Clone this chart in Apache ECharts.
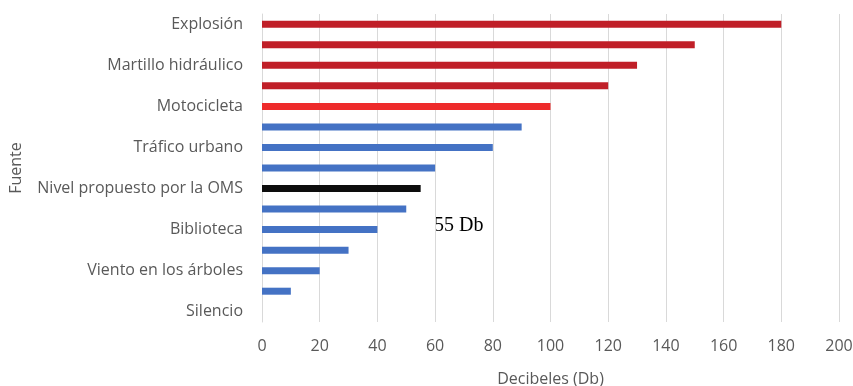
<!DOCTYPE html>
<html><head><meta charset="utf-8">
<script src="https://cdn.jsdelivr.net/npm/echarts@6/dist/echarts.min.js"></script>
<style>html,body{margin:0;padding:0;background:#fff}#c{width:853px;height:386px}</style>
</head><body><div id="c"></div>
<script>
// categories top to bottom (hidden labels are blank in the source)
const categories = ["Explosión","","Martillo hidráulico","","Motocicleta","","Tráfico urbano","","Nivel propuesto por la OMS","","Biblioteca","","Viento en los árboles","","Silencio"];
const values = [180,150,130,120,100,90,80,60,55,50,40,30,20,10,0];
const barGroups = ["dark","dark","dark","dark","bright","blue","blue","blue","black","blue","blue","blue","blue","blue","blue"];
const xTicks = [0,20,40,60,80,100,120,140,160,180,200];
const groupColors = {dark:"#C01F28", bright:"#EE2B2B", blue:"#4472C4", black:"#0D0D0D"};

const chart = echarts.init(document.getElementById('c'), null, {renderer:'canvas'});
chart.setOption({
  animation:false,
  grid:{left:262, right:14, top:14, bottom:64, containLabel:false, outerBoundsMode:'none'},
  xAxis:{type:'value', min:xTicks[0], max:xTicks[xTicks.length-1], interval:20,
    name:'Decibeles (Db)', nameLocation:'middle', nameGap:49,
    nameTextStyle:{color:'#595959', fontSize:16, fontFamily:'Open Sans'},
    axisLine:{show:false}, axisTick:{show:false},
    axisLabel:{color:'#595959', fontSize:16, fontFamily:'Open Sans', margin:16},
    splitLine:{lineStyle:{color:'#D9D9D9', width:1}}},
  yAxis:{type:'category', data:categories, inverse:true,
    name:'Fuente', nameLocation:'middle', nameGap:238, nameRotate:90,
    nameTextStyle:{color:'#595959', fontSize:16, fontFamily:'Open Sans'},
    axisLine:{lineStyle:{color:'#D9D9D9'}}, axisTick:{show:false},
    axisLabel:{interval:0, color:'#595959', fontSize:16, fontFamily:'Open Sans', margin:19}},
  series:[{type:'bar', barWidth:7,
    data: values.map((v,i)=>({value:v, itemStyle:{color:groupColors[barGroups[i]]}}))}],
  graphic:[{type:'text', left:434, top:216,
    style:{text:'55 Db', font:'20px "Liberation Serif", "DejaVu Serif", serif', fill:'#000'}}]
});
</script></body></html>
